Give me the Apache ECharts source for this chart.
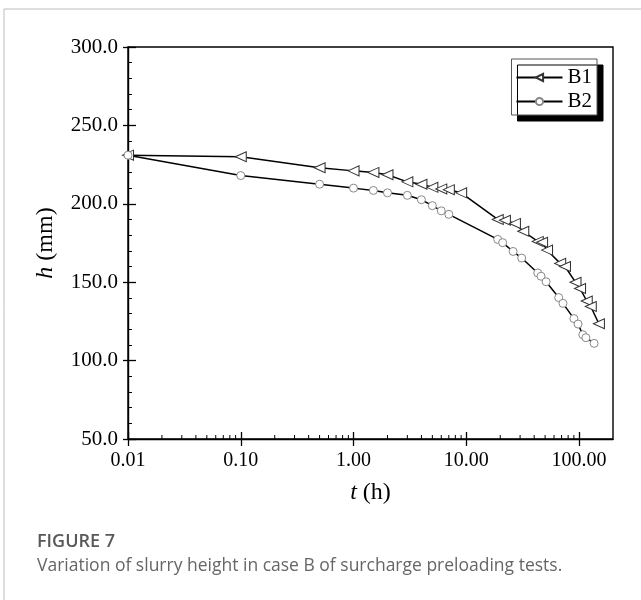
<!DOCTYPE html>
<html>
<head>
<meta charset="utf-8">
<script src="https://cdn.jsdelivr.net/npm/echarts@6/dist/echarts.min.js"></script>
<style>html,body{margin:0;padding:0;background:#fff;}#c{width:641px;height:600px;}</style>
</head>
<body>
<div id="c"></div>
<script>
// Data
const b1T = [0.01, 0.1, 0.5, 1, 1.5, 2, 3, 4, 5, 6, 7, 9, 19, 22, 27, 32, 43, 47, 52, 68, 75, 93, 102, 117, 127, 150];
const b1H = [231, 230, 223, 221, 220, 218.5, 214, 212.5, 210.5, 209.5, 209, 207, 190, 189.5, 187.5, 182.5, 176, 175.5, 170.5, 162, 160, 150, 146, 138, 134.5, 123.5];
const b2T = [0.01, 0.1, 0.5, 1, 1.5, 2, 3, 4, 5, 6, 7, 19, 21, 26, 31, 43, 46, 51, 66, 72, 90, 98, 108, 115, 136];
const b2H = [231, 218, 212.5, 210, 208.5, 207, 205.4, 202.6, 198.8, 195.5, 193.3, 177.3, 175.2, 169.6, 165.4, 155.9, 153.8, 150.3, 140.2, 136.5, 126.8, 123.3, 116.5, 114.6, 111];
const xMajorTicks = [0.01, 0.1, 1, 10, 100];
const xMinorTicks = [];
[0.01, 0.1, 1, 10, 100].forEach(d => { for (let k = 2; k <= 9; k++) { const v = +(d * k).toPrecision(3); if (v < 200) xMinorTicks.push(v); } });

const serif = '"Liberation Serif", "Times New Roman", serif';
const chart = echarts.init(document.getElementById('c'));
const xCommon = { type: 'log', logBase: 10, min: 0.01, max: 200, splitLine: { show: false } };
const yCommon = { type: 'value', min: 50, max: 300, interval: 50, splitLine: { show: false } };

chart.setOption({
  animation: false,
  backgroundColor: '#fff',
  grid: { left: 128, right: 28, top: 47, bottom: 161, show: true, borderColor: '#000', borderWidth: 1.4, backgroundColor: 'transparent' },
  legend: {
    orient: 'vertical', right: 44, top: 59,
    padding: [8, 5, 3, 4], itemGap: 3, itemWidth: 46, itemHeight: 9,
    backgroundColor: '#fff', borderColor: '#555', borderWidth: 1,
    shadowColor: '#000', shadowBlur: 0, shadowOffsetX: 6, shadowOffsetY: 6,
    textStyle: { fontFamily: serif, fontSize: 21, color: '#000', lineHeight: 20 },
    data: ['B1', 'B2']
  },
  xAxis: [
    Object.assign({}, xCommon, {
      position: 'bottom',
      axisLine: { show: true, lineStyle: { color: '#000', width: 1.4 } },
      axisTick: { show: true, inside: true, length: 7, customValues: xMajorTicks, lineStyle: { color: '#000', width: 1.3 } },
      axisLabel: { show: true, customValues: xMajorTicks, formatter: v => (+v).toFixed(2), fontFamily: serif, fontSize: 20, color: '#000', margin: 12 },
      name: '{i|t} (h)', nameLocation: 'middle', nameGap: 42,
      nameTextStyle: { fontFamily: serif, fontSize: 24, color: '#000', rich: { i: { fontFamily: serif, fontStyle: 'italic', fontSize: 24, color: '#000' } } }
    }),
    Object.assign({}, xCommon, {
      position: 'bottom',
      axisLine: { show: false },
      axisTick: { show: true, inside: false, length: 7, customValues: xMajorTicks, lineStyle: { color: '#000', width: 1.3 } },
      axisLabel: { show: false }
    })
  ],
  yAxis: [
    Object.assign({}, yCommon, {
      position: 'left',
      axisLine: { show: true, lineStyle: { color: '#000', width: 1.4 } },
      axisTick: { show: true, inside: true, length: 8, lineStyle: { color: '#000', width: 1.3 } },
      minorTick: { show: true, splitNumber: 5, length: 4, lineStyle: { color: '#000', width: 1 } },
      axisLabel: { formatter: v => (+v).toFixed(1), fontFamily: serif, fontSize: 21, color: '#000', margin: 10 },
      name: '{i|h} (mm)', nameLocation: 'middle', nameGap: 70,
      nameTextStyle: { fontFamily: serif, fontSize: 24, color: '#000', rich: { i: { fontFamily: serif, fontStyle: 'italic', fontSize: 24, color: '#000' } } }
    }),
    Object.assign({}, yCommon, {
      position: 'left',
      axisLine: { show: false },
      axisTick: { show: true, inside: false, length: 5, lineStyle: { color: '#000', width: 1.3 } },
      axisLabel: { show: false }
    })
  ],
  series: [
    {
      name: 'xMinor', type: 'custom', xAxisIndex: 0, yAxisIndex: 0, silent: true, clip: false,
      data: xMinorTicks.map(v => [v, 50]),
      renderItem: (params, api) => {
        const p = api.coord([api.value(0), api.value(1)]);
        return { type: 'line', shape: { x1: p[0], y1: p[1], x2: p[0], y2: p[1] - 4 }, style: { stroke: '#000', lineWidth: 1 } };
      },
      z: 1
    },
    {
      name: 'B1', type: 'line', xAxisIndex: 0, yAxisIndex: 0,
      data: b1T.map((t, i) => [t, b1H[i]]),
      symbol: 'triangle', symbolSize: [10, 11], symbolRotate: 90,
      lineStyle: { color: '#000', width: 1.5 },
      itemStyle: { color: '#fff', borderColor: '#333', borderWidth: 1 },
      z: 3
    },
    {
      name: 'B2', type: 'line', xAxisIndex: 0, yAxisIndex: 0,
      data: b2T.map((t, i) => [t, b2H[i]]),
      symbol: 'circle', symbolSize: 8,
      lineStyle: { color: '#000', width: 1.5 },
      itemStyle: { color: '#fff', borderColor: '#888', borderWidth: 1 },
      z: 3
    }
  ],
  graphic: [
    { type: 'line', shape: { x1: 4, y1: 9, x2: 641, y2: 9 }, style: { stroke: '#bdbdbd', lineWidth: 1 } },
    { type: 'line', shape: { x1: 4, y1: 9, x2: 4, y2: 600 }, style: { stroke: '#bdbdbd', lineWidth: 1 } },
    { type: 'text', left: 37, top: 533, style: { text: 'FIGURE 7', font: '600 18px "Open Sans", "Noto Sans", sans-serif', fill: '#595959' } },
    { type: 'text', left: 37, top: 557, style: { text: 'Variation of slurry height in case B of surcharge preloading tests.', font: '17.5px "Open Sans", "Noto Sans", sans-serif', fill: '#666' } }
  ]
});
</script>
</body>
</html>
